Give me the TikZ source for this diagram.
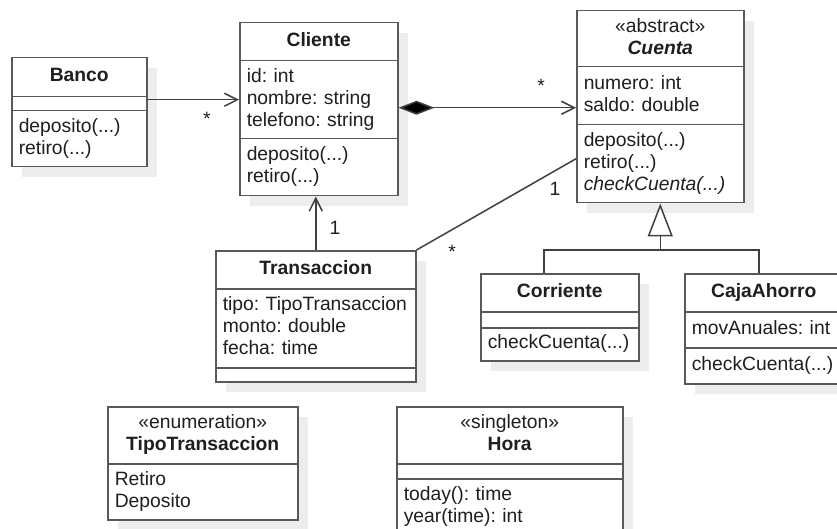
\documentclass[tikz,border=0pt]{standalone}
\usepackage{fontspec}
\setmainfont{Liberation Sans}
\usetikzlibrary{arrows.meta,shadows}
\frenchspacing

\colorlet{umlline}{black!65}
\colorlet{umltext}{black!88}
\newcommand{\umlfont}{\fontsize{19.3}{22}\selectfont}

\tikzset{
  uml/.style={draw=umlline, line width=1.5pt, fill=white, anchor=north west,
    inner xsep=7pt, inner ysep=0pt, font=\umlfont, text=umltext,
    drop shadow={shadow xshift=10pt, shadow yshift=-10pt, fill=black!7, opacity=1}},
  head/.style={uml, align=center, execute at begin node=\strut, execute at end node=\strut},
  body/.style={uml, align=left, execute at begin node=\strut, execute at end node=\strut},
  link/.style={draw=black!75, line width=1.5pt},
  barb/.style={-{Straight Barb[length=13pt,width=13pt]}},
  mult/.style={font=\umlfont, text=umltext, inner sep=0pt},
}

\begin{document}
\begin{tikzpicture}[x=1pt, y=-1pt]
\clip (0,0) rectangle (837,529);

% Banco
\node[head, text width=121pt, minimum height=39pt] (banco) at (11,57) {\textbf{Banco}};
\node[uml, text width=121pt, minimum height=14pt] (banco-attr) at (11,96) {};
\node[body, text width=121pt, minimum height=56pt] (banco-ops) at (11,110) {deposito(...)\\retiro(...)};

% Cliente
\node[head, text width=144pt, minimum height=38pt] (cliente) at (239,22) {\textbf{Cliente}};
\node[body, text width=144pt, minimum height=78pt] (cliente-attr) at (239,60) {id: int\\nombre: string\\telefono: string};
\node[body, text width=144pt, minimum height=57pt] (cliente-ops) at (239,138) {deposito(...)\\retiro(...)};

% Cuenta
\node[head, text width=153pt, minimum height=56pt] (cuenta) at (576,10) {«abstract»\\\textbf{\textit{Cuenta}}};
\node[body, text width=153pt, minimum height=58pt] (cuenta-attr) at (576,66) {numero: int\\saldo: double};
\node[body, text width=153pt, minimum height=78pt] (cuenta-ops) at (576,124) {deposito(...)\\retiro(...)\\\textit{checkCuenta(...)}};

% Transaccion
\node[head, text width=186pt, minimum height=38pt] (transaccion) at (215,250) {\textbf{Transaccion}};
\node[body, text width=186pt, minimum height=79pt] (transaccion-attr) at (215,288) {tipo: TipoTransaccion\\monto: double\\fecha: time};
\node[uml, text width=186pt, minimum height=14pt] (transaccion-ops) at (215,367) {};

% Corriente
\node[head, text width=144pt, minimum height=38pt] (corriente) at (480,273) {\textbf{Corriente}};
\node[uml, text width=144pt, minimum height=16pt] (corriente-attr) at (480,311) {};
\node[body, text width=144pt, minimum height=33pt] (corriente-ops) at (480,327) {checkCuenta(...)};

% CajaAhorro
\node[head, text width=144pt, minimum height=38pt] (cajaahorro) at (684,273) {\textbf{CajaAhorro}};
\node[body, text width=144pt, minimum height=36pt] (cajaahorro-attr) at (684,311) {movAnuales: int};
\node[body, text width=144pt, minimum height=36pt] (cajaahorro-ops) at (684,347) {checkCuenta(...)};

% TipoTransaccion
\node[head, text width=176pt, minimum height=57pt] (tipo) at (107,406) {«enumeration»\\\textbf{TipoTransaccion}};
\node[body, text width=176pt, minimum height=56pt] (tipo-attr) at (107,463) {Retiro\\Deposito};

% Hora
\node[head, text width=212pt, minimum height=57pt] (hora) at (396,406) {«singleton»\\\textbf{Hora}};
\node[uml, text width=212pt, minimum height=15pt] (hora-attr) at (396,463) {};
\node[body, text width=212pt, minimum height=57pt] (hora-ops) at (396,478) {today(): time\\year(time): int};

% relaciones
\draw[link, barb] (cliente-attr.west -| banco-attr.east) -- (cliente-attr.west);
\draw[link, {Diamond[length=36pt,width=14pt,fill=black]}-{Straight Barb[length=13pt,width=13pt]}]
  ([yshift=-8pt]cliente-attr.east) -- ([yshift=-8pt]cliente-attr.east -| cuenta-attr.west);
\draw[link, barb] (transaccion.north) -- (transaccion.north |- cliente-ops.south);
\draw[link] (transaccion.north east) -- ([yshift=5pt]cuenta-ops.west);

\coordinate (gen) at (cuenta-ops.south |- 0,250);
\draw[link, -{Triangle[length=33pt,width=25pt,fill=white]}] (gen) -- (cuenta-ops.south);
\draw[link] ([xshift=-16pt]corriente.north) |- (gen) -| ([xshift=-5pt]cajaahorro.north);

% multiplicidades
\node[mult] (m-banco) at (207,119) {*};
\node[mult] (m-cuenta) at (541,86) {*};
\node[mult] (m-cliente) at (335,228) {1};
\node[mult] (m-uno) at (555,189) {1};
\node[mult] (m-trans) at (452,252) {*};
\end{tikzpicture}
\end{document}
